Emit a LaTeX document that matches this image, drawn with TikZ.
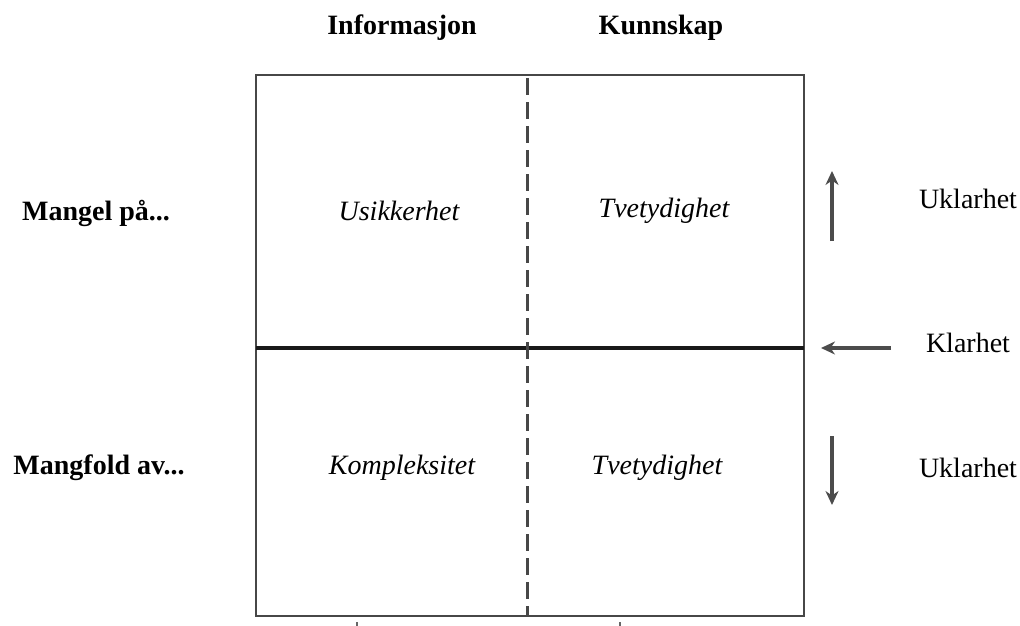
\documentclass[tikz,border=0pt]{standalone}
\usepackage{fontspec}
\setmainfont{Liberation Serif}
\usetikzlibrary{arrows.meta}
\begin{document}
\begin{tikzpicture}[x=1pt,y=-1pt,
  lbl/.style={inner sep=0pt,font=\fontsize{28}{32}\selectfont},
  head/.style={lbl,font=\fontsize{28}{32}\selectfont\bfseries},
  cell/.style={lbl,font=\fontsize{28}{32}\selectfont\itshape},
  frame/.style={draw=black!72,line width=2.8pt},
  divider/.style={draw=black!90,line width=4.2pt},
  split/.style={draw=black!72,line width=3pt,dash pattern=on 17pt off 7pt},
  pointer/.style={draw=black!70,line width=3.2pt,-{Stealth[length=14pt,width=13pt]}}]
\useasboundingbox (0,0) rectangle (1020,626);

% column and row headings
\node[head] (info) at (402,28) {Informasjon};
\node[head] (know) at (661,28) {Kunnskap};
\node[head] (lack) at (96,213) {Mangel på...};
\node[head] (many) at (99,468) {Mangfold av...};

% the matrix
\coordinate (tl) at (256,75);
\coordinate (br) at (804,616);
\draw[frame] (tl) rectangle (br);
\coordinate (ml) at (256,348);
\coordinate (mr) at (804,348);
\draw[divider] (ml) -- (mr);
\coordinate (dt) at (527,78);
\coordinate (db) at (527,616);
\draw[split] (dt) -- (db);

% cell labels
\node[cell] (c11) at (399,211) {Usikkerhet};
\node[cell] (c12) at (664,211) {Tvetydighet};
\node[cell] (c21) at (402,468) {Kompleksitet};
\node[cell] (c22) at (657,468) {Tvetydighet};

% scale on the right
\node[lbl] (u1) at (968,199) {Uklarhet};
\node[lbl] (kl) at (968,343) {Klarhet};
\node[lbl] (u2) at (968,468) {Uklarhet};

\coordinate (a1s) at (832,241);
\coordinate (a1e) at (832,171);
\draw[pointer] (a1s) -- (a1e);
\coordinate (a2s) at (891,348);
\coordinate (a2e) at (821,348);
\draw[pointer] (a2s) -- (a2e);
\coordinate (a3s) at (832,436);
\coordinate (a3e) at (832,505);
\draw[pointer] (a3s) -- (a3e);

% small ticks under the frame
\coordinate (t1a) at (357,622);
\coordinate (t1b) at (357,626);
\coordinate (t2a) at (620,622);
\coordinate (t2b) at (620,626);
\draw[black!60,line width=2.4pt] (t1a) -- (t1b);
\draw[black!60,line width=2.4pt] (t2a) -- (t2b);
\end{tikzpicture}
\end{document}
